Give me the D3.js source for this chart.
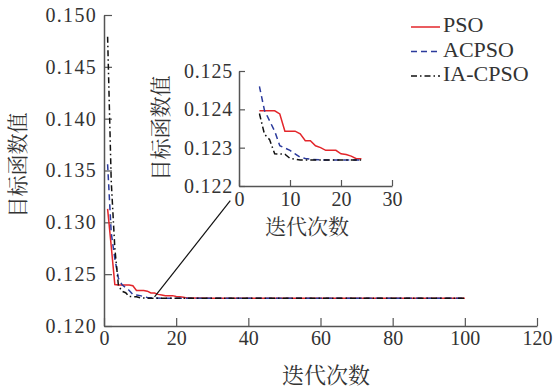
<!DOCTYPE html>
<html>
<head>
<meta charset="utf-8">
<script src="https://cdn.jsdelivr.net/npm/d3@7"></script>
<style>
  html, body { margin: 0; padding: 0; background: #fff; }
  svg { display: block; }
  text { font-family: "Liberation Serif", "Noto Serif CJK SC", "Noto Sans CJK SC", serif; fill: #333; }
</style>
</head>
<body>
<svg id="chart" width="558" height="387"></svg>
<script>
// [iteration, objective value] break points of each run
const psoData = [[1,0.1313],[2,0.1277],[3,0.1240],[4,0.12396],[7,0.12396],[8,0.12388],[9,0.12343],[11,0.12343],[12,0.12336],[13,0.12318],[14,0.12318],[15,0.12305],[16,0.12300],[17,0.12293],[19,0.12293],[20,0.12284],[21,0.12282],[22,0.12278],[23,0.12271],[24,0.12271],[30,0.12268],[100,0.12268]];
const acpsoData = [[1,0.1356],[2,0.1290],[3,0.1265],[4,0.12460],[5,0.12397],[6,0.12370],[7,0.12343],[8,0.12305],[9,0.12299],[10,0.12293],[11,0.12284],[12,0.12275],[13,0.12272],[14,0.12270],[16,0.12268],[100,0.12268]];
const iacpsoData = [[1,0.1479],[2,0.1340],[3,0.1275],[4,0.12389],[5,0.12335],[6,0.12321],[7,0.12284],[9,0.12283],[10,0.12272],[11,0.12270],[12,0.12268],[100,0.12268]];

const seriesNames = ["PSO", "ACPSO", "IA-CPSO"];
const xTicks = [0, 20, 40, 60, 80, 100, 120];
const yTicks = [0.120, 0.125, 0.130, 0.135, 0.140, 0.145, 0.150];
const insetXTicks = [0, 10, 20, 30];
const insetYTicks = [0.122, 0.123, 0.124, 0.125];
const insetRange = [4, 24];   // iterations shown in the zoomed box
const leader = [[14, 0.1228], [35, 0.1321]]; // pointer from curves to inset

const series = [
  { name: seriesNames[0], data: psoData, color: "#e3262b", dash: null },
  { name: seriesNames[1], data: acpsoData, color: "#2b3a9c", dash: "6,4" },
  { name: seriesNames[2], data: iacpsoData, color: "#111", dash: "6,3,1.5,3" }
];

const svg = d3.select("#chart");
const axisColor = "#555";

// main axes
const x = d3.scaleLinear().domain([0, 120]).range([104, 537]);
const y = d3.scaleLinear().domain([0.120, 0.150]).range([326, 15]);

function styleAxis(g) {
  g.selectAll("path.domain").attr("stroke", axisColor).attr("stroke-width", 1.5);
  g.selectAll(".tick line").attr("stroke", axisColor).attr("stroke-width", 1.2);
  g.selectAll(".tick text").attr("fill", "#333").attr("font-family", "Liberation Serif");
}

svg.append("g")
  .attr("transform", `translate(0,${y(0.120)})`)
  .call(d3.axisBottom(x).tickValues(xTicks).tickSizeInner(-8).tickSizeOuter(0).tickPadding(5).tickFormat(d3.format("d")))
  .call(styleAxis)
  .call(g => g.selectAll(".tick text").attr("font-size", 20));

svg.append("g")
  .attr("transform", `translate(${x(0)},0)`)
  .call(d3.axisLeft(y).tickValues(yTicks).tickSizeInner(-8).tickSizeOuter(0).tickPadding(7).tickFormat(d3.format(".3f")))
  .call(styleAxis)
  .call(g => g.selectAll(".tick text").attr("font-size", 20).attr("letter-spacing", 1.3));

const line = d3.line().x(d => x(d[0])).y(d => y(d[1]));

series.forEach(s => {
  svg.append("path")
    .datum(s.data)
    .attr("fill", "none")
    .attr("stroke", s.color)
    .attr("stroke-width", 1.5)
    .attr("stroke-dasharray", s.dash)
    .attr("d", line);
});

svg.append("text")
  .attr("x", 326).attr("y", 383)
  .attr("text-anchor", "middle")
  .attr("font-size", 22)
  .text("迭代次数");

svg.append("text")
  .attr("transform", "translate(25,165) rotate(-90)")
  .attr("text-anchor", "middle")
  .attr("font-size", 21)
  .text("目标函数值");

// legend
const legend = svg.append("g");
series.forEach((s, i) => {
  const ly = 27 + i * 24.5;
  legend.append("line")
    .attr("x1", 411).attr("x2", 440)
    .attr("y1", ly).attr("y2", ly)
    .attr("stroke", s.color)
    .attr("stroke-width", 1.5)
    .attr("stroke-dasharray", s.dash);
  legend.append("text")
    .attr("x", 443).attr("y", ly + 5)
    .attr("font-size", 22)
    .attr("fill", "#111")
    .text(s.name);
});

// leader line to inset
svg.append("line")
  .attr("x1", x(leader[0][0])).attr("y1", y(leader[0][1]))
  .attr("x2", x(leader[1][0])).attr("y2", y(leader[1][1]))
  .attr("stroke", "#111")
  .attr("stroke-width", 1.2);

// inset
const ix = d3.scaleLinear().domain([0, 30]).range([239, 392]);
const iy = d3.scaleLinear().domain([0.122, 0.125]).range([186, 71]);

svg.append("rect")
  .attr("x", 239).attr("y", 62).attr("width", 160).attr("height", 124)
  .attr("fill", "#fff");

svg.append("clipPath").attr("id", "insetClip")
  .append("rect")
  .attr("x", ix(insetRange[0]) - 1).attr("y", iy(0.125) - 5)
  .attr("width", ix(insetRange[1]) - ix(insetRange[0]) + 1)
  .attr("height", iy(0.122) - iy(0.125) + 5);

svg.append("g")
  .attr("transform", `translate(0,${iy(0.122)})`)
  .call(d3.axisBottom(ix).tickValues(insetXTicks).tickSizeInner(-6).tickSizeOuter(0).tickPadding(6).tickFormat(d3.format("d")))
  .call(styleAxis)
  .call(g => g.selectAll(".tick text").attr("font-size", 20));

svg.append("g")
  .attr("transform", `translate(${ix(0)},0)`)
  .call(d3.axisLeft(iy).tickValues(insetYTicks).tickSizeInner(-6).tickSizeOuter(0).tickPadding(6).tickFormat(d3.format(".3f")))
  .call(styleAxis)
  .call(g => g.selectAll(".tick text").attr("font-size", 20).attr("letter-spacing", 0.8));

const insetLine = d3.line().x(d => ix(d[0])).y(d => iy(d[1]));
const insetG = svg.append("g").attr("clip-path", "url(#insetClip)");
series.forEach(s => {
  const part = s.data.filter(d => d[0] >= insetRange[0]);
  insetG.append("path")
    .datum(part)
    .attr("fill", "none")
    .attr("stroke", s.color)
    .attr("stroke-width", 1.5)
    .attr("stroke-dasharray", s.dash)
    .attr("d", insetLine);
});

svg.append("text")
  .attr("x", 307).attr("y", 234)
  .attr("text-anchor", "middle")
  .attr("font-size", 21)
  .text("迭代次数");

svg.append("text")
  .attr("transform", "translate(168,128) rotate(-90)")
  .attr("text-anchor", "middle")
  .attr("font-size", 21)
  .text("目标函数值");
</script>
</body>
</html>
